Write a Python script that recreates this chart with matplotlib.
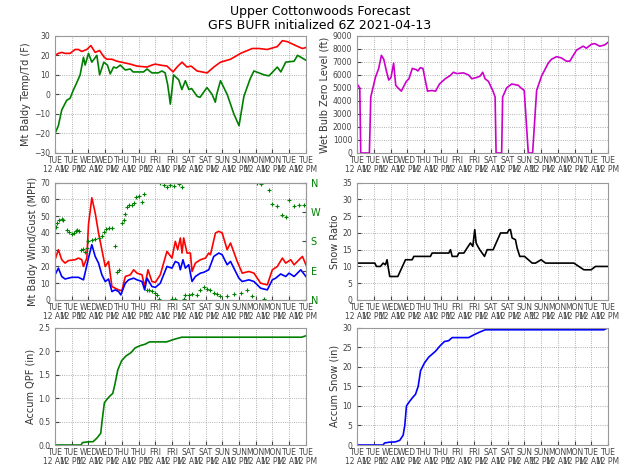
import matplotlib
matplotlib.use("Agg")
import matplotlib.pyplot as plt

# ---- data (hours since Tue 12 AM) ----
tick_hours = list(range(0, 181, 12))
tick_days = ["TUE","TUE","WED","WED","THU","THU","FRI","FRI","SAT","SAT","SUN","SUN","MON","MON","TUE","TUE"]
tick_ampm = ["12 AM","12 PM"] * 8

temp_h = [0,2.4,4.8,7.2,10.8,14.4,16.8,19.2,22.8,25.7,28.8,31.9,35.3,37.2,40.8,44.4,54,58.8,66,69.5,72,75.5,80.3,84.7,87.5,91.1,94.7,97.6,101.9,109.1,113.9,118.7,125.9,133.1,141.5,146.3,152.3,159.5,163.1,166.7,172.7,177.5,180]
temp_v = [20,21,21.5,21,21,23,23,22,23,25,21.5,22.5,19,18,18,17,15.5,14.5,14,15,15.5,15,14.5,11.5,14,16.5,14,14.5,12,11,14,16.5,18,21,23.5,23.5,23,24.5,27.5,27,25,23.5,24]

dew_h = [0,2.4,4.8,8.4,10.8,13,15.6,18,20.4,21.6,24,26.4,30,32,35,37.6,39.6,42,44,46.8,50.4,54,56,63.5,66,69.5,74,76.7,79,80.8,81.8,82.7,84,85,88.7,91,93.5,96,98,102,104,109,112.7,115,116,118.7,123.5,128.3,132,135.5,140,142.7,150,153.5,159.5,162,165.5,171.5,174,180]
dew_v = [-20,-16,-8,-3,-2,2,6,10,19,15,21,16.5,20,10,16.5,15,10.5,14,13.5,15,12.5,13,11.5,11.5,13,11,11,12,11,5,0,-5,3,10,7.5,2.5,7,2.5,3,-1,-1.5,3.5,0,-4,0,7,0,-10,-16,-1,8,12,10,9.5,14,11.5,16.5,17,20,17.5]

wind_h = [0,2.4,4.8,7.2,12,16.8,20.4,24,26.4,28.8,31.2,33.6,36,38.4,40.8,43.2,45.6,47.2,50.4,52.8,56.4,58.8,62.4,64.3,66,69.5,72,75.5,80.3,83.9,86.3,88.7,89.9,91.8,93.5,95.9,98.3,100.7,104.3,106.7,110.3,113.9,117.5,119.9,123.5,125.9,128.3,131.9,134.3,139.1,142.7,147.5,152.3,155.9,158.3,161.9,165.5,167.9,171.5,176.3,180]
wind_v = [15,19,14,12.5,13.5,13.5,12,25,33,26,22,15,11,12.5,5,6,5,3,10,12,13,12,11,6,13,8,7.5,10,20,19,23,22,18,24,19,21,11,14,16,16.5,18,26,28,27,21,23,19,13,11,12,11,7,6,12,13,15.5,14,16,14,18,14]

gust_h = [0,2.4,4.8,7.2,9.6,14.4,16.8,19.2,20.4,22.8,24,26.4,28.8,31.2,33.6,36,38.4,40.8,43.2,45.6,48,50.4,54,56.4,58.8,62.4,64.3,66.7,69.5,72,75.5,80.3,83.9,86.3,88,89.9,91.1,92.3,94.7,97.1,98.3,100.7,104.3,107.9,110.3,111.5,115.1,117.5,119.9,123.5,125.9,130.7,134.3,139.1,142.7,147.5,152.3,155.9,159.5,163.1,165.5,169.1,171.5,177.5,180]
gust_v = [24,30,24,22,23.5,24,25,24,20,25,45,61,52,40,30,20,23,8,7,6,5.5,14,15,18,16,15,8,18,11,10.5,15,29,25,35,30,37,28,37,28,28,17,22,24,25,28,27,40,41,40,30,34,23,16,17,16,10,9,18,20,25,22,24,21,26,21]

dir_h = [0.7,1.7,3.1,4.8,6,8.4,10.3,12,13.7,15.1,16.1,17.5,18.5,19.9,21.6,22.8,24,26.4,28.8,31.2,33.6,34.8,36.7,38.4,40.8,43.2,44.4,45.6,48,49.2,50.4,51.6,52.8,55.2,56.4,58.3,59.9,62.4,64,66,67.1,69.5,72,73.1,74.3,75.5,77.9,80.3,82.7,85.1,83.9,86.3,88.7,91.1,92.3,93.5,95.9,98.3,101.9,104.3,106.7,109.1,111.5,113.9,116.3,118.7,123.5,128.3,133.1,137.9,141.5,145.1,147.5,149.9,153.5,155.9,159.5,163.1,165.5,167.9,171.5,175.1,178.7]
dir_v = [224,235,247,249,245,216,209,204,206,211,216,211,152,157,147,159,181,183,186,191,196,209,217,222,221,165,85,91,235,245,265,286,291,293,297,315,319,301,325,29,31,27,21,16,2,358,353,348,353,350,3,2,355,348,3,16,16,19,16,30,40,35,30,22,19,13,13,19,21,31,13,358,356,3,339,294,288,260,255,307,289,291,293]

wb_h = [0,1.9,2.6,8.8,9.8,13.1,15.5,17.4,19.1,21,22.7,24.3,26.2,27.7,29.3,31.7,35.3,37.2,39.6,42.4,43.6,45.3,47.2,50.5,53.6,56.3,59.1,63.2,66.8,69.1,71.5,76.3,79.9,82.3,85.8,88.2,90.1,91.8,94.2,97.3,99,99.7,103.7,104.4,107.3,110.9,115.6,117.5,119.9,122.8,125.9,128.8,132.3,137.1,139.5,143.1,146.6,150.2,152.6,157.4,162.1,164.5,168.1,170.5,174.1,177.6,180]
wb_v = [5300,5000,0,0,4300,5800,6500,7500,7200,6300,5600,5800,6900,5200,5000,4750,5500,5700,6500,6400,6300,6550,6500,4750,4800,4750,5300,5700,5950,6200,6100,6150,6000,5700,5800,5900,6200,5700,5500,4800,4300,0,0,4300,5000,5300,5200,5000,4800,0,0,4800,5900,6900,7200,7400,7300,7050,7050,7900,8200,8050,8350,8400,8200,8300,8500]

sr_h = [0,12.7,13.9,16.7,18.7,20.3,21.5,22.2,23.4,29.2,34.7,39.5,40.7,52.6,53.8,65.8,67,68.2,71.8,73,76.6,78.9,81.3,83,84.4,85.4,86.6,88,89.7,91.4,93.3,97.6,102.9,107.7,109.1,110,111.2,113.6,114.8,116.7,120.1,125.6,128,132,135.2,155.5,162.7,167.9,171,180]
sr_v = [11,11,10,10,11,10.5,12,10,7,7,12,12,13,13,14,14,15,13,13,14,14,15.5,17,16,21,17,16,15,14,13,15,15,20,20,21,21,18.5,18,15.5,13,13,11,11,12,11,11,9,9,10,10]

qpf_h = [0,18.7,19.6,24,27.3,30.1,32.8,33.7,35.4,37.1,39.5,41.4,43,45,47.8,50.9,54.5,57.4,61,64.6,67.7,80,84.9,90.9,177,180]
qpf_v = [0,0,0.05,0.07,0.07,0.15,0.25,0.5,0.9,0.97,1.05,1.1,1.3,1.6,1.8,1.9,1.97,2.07,2.12,2.15,2.2,2.2,2.25,2.3,2.3,2.33]

snow_h = [0,18.7,19.6,22.7,27.5,30.6,33,34.2,35.4,37.3,39.5,41.9,43.8,45.5,48.3,51.4,56.2,59.8,62.7,65.6,68.2,80,83.7,88.5,92,177,180]
snow_v = [0,0,0.5,0.7,0.8,1.2,2.5,5,10,11,12,13,15,19,21,22.5,24,25.5,26.5,26.7,27.5,27.5,28.2,29,29.5,29.5,30]

fig = plt.figure(figsize=(6.4, 4.65), dpi=100)
fig.text(0.5, 0.975, "Upper Cottonwoods Forecast", ha="center", va="center", fontsize=9)
fig.text(0.5, 0.945, "GFS BUFR initialized 6Z 2021-04-13", ha="center", va="center", fontsize=9)

L, R, W, H = 0.086, 0.558, 0.392, 0.252
rows = [0.671, 0.355, 0.043]
tick_labels = [f"{d}\n{a}" for d, a in zip(tick_days, tick_ampm)]

def style(ax, ylabel, ylim, yticks, fmt=None):
    ax.set_xlim(0, 180)
    ax.set_ylim(*ylim)
    ax.set_xticks(tick_hours)
    ax.set_xticklabels(tick_labels, fontsize=5.5, color="#444444", linespacing=1.1)
    ax.set_yticks(yticks)
    if fmt:
        ax.set_yticklabels([fmt.format(v) for v in yticks])
    ax.tick_params(axis="y", labelsize=5.5, colors="#444444", length=3, direction="in")
    ax.tick_params(axis="x", length=3, direction="in", pad=2, colors="#444444")
    ax.grid(True, linestyle=":", color="#999999", linewidth=0.6)
    for s in ax.spines.values():
        s.set_color("#999999"); s.set_linewidth(0.8)
    ax.set_ylabel(ylabel, fontsize=7, color="#333333", labelpad=2)

ax1 = fig.add_axes([L, rows[0], W, H])
ax1.plot(temp_h, temp_v, color="red", lw=1.2)
ax1.plot(dew_h, dew_v, color="green", lw=1.2)
style(ax1, "Mt Baldy Temp/Td (F)", (-30, 30), range(-30, 31, 10))

ax2 = fig.add_axes([R, rows[0], W, H])
ax2.plot(wb_h, wb_v, color="#cc00cc", lw=1.2)
style(ax2, "Wet Bulb Zero Level (ft)", (0, 9000), range(0, 9001, 1000))

ax3 = fig.add_axes([L, rows[1], W, H])
ax3.plot(gust_h, gust_v, color="red", lw=1.2)
ax3.plot(wind_h, wind_v, color="blue", lw=1.2)
style(ax3, "Mt Baldy Wind/Gust (MPH)", (0, 70), range(0, 71, 10))
ax3b = ax3.twinx()
ax3b.scatter(dir_h, dir_v, marker="+", color="green", s=12, linewidths=0.8)
ax3b.set_ylim(0, 360)
ax3b.set_yticks([0, 90, 180, 270, 360])
ax3b.set_yticklabels(["N", "E", "S", "W", "N"], fontsize=7, color="green")
ax3b.tick_params(axis="y", length=3, direction="in", colors="#444444", labelcolor="green")
for s in ax3b.spines.values():
    s.set_color("#999999"); s.set_linewidth(0.8)
ax3b.set_xlim(0, 180)

ax4 = fig.add_axes([R, rows[1], W, H])
ax4.plot(sr_h, sr_v, color="black", lw=1.2)
style(ax4, "Snow Ratio", (0, 35), range(0, 36, 5))

ax5 = fig.add_axes([L, rows[2], W, H])
ax5.plot(qpf_h, qpf_v, color="green", lw=1.2)
style(ax5, "Accum QPF (in)", (0, 2.5), [0, 0.5, 1.0, 1.5, 2.0, 2.5], fmt="{:.1f}")

ax6 = fig.add_axes([R, rows[2], W, H])
ax6.plot(snow_h, snow_v, color="blue", lw=1.2)
style(ax6, "Accum Snow (in)", (0, 30), range(0, 31, 5))

fig.savefig("out.png", dpi=100)
